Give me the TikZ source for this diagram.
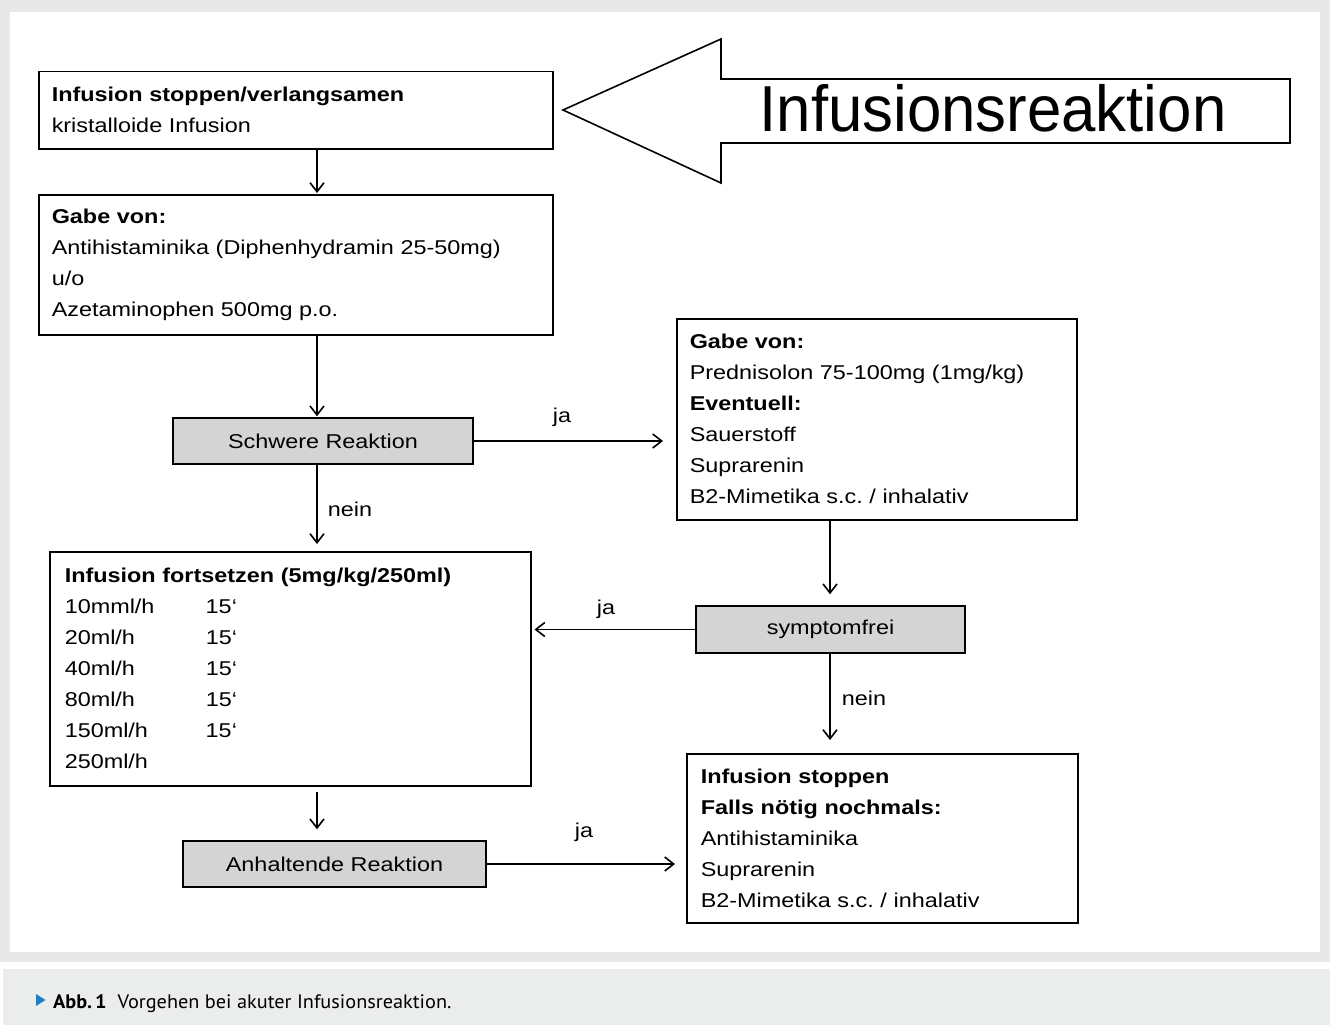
\documentclass[tikz,border=0pt]{standalone}
\usepackage{fontspec}
\setmainfont[FakeStretch=1.17]{Liberation Sans}
\newfontfamily\titlefont[FakeStretch=0.95]{Liberation Sans}
\newfontfamily\capfont[FakeStretch=1.04]{PT Sans}
\usetikzlibrary{arrows.meta}
\definecolor{framegray}{RGB}{232,232,232}
\definecolor{capgray}{RGB}{235,236,236}
\definecolor{boxgray}{RGB}{212,212,212}
\definecolor{capblue}{RGB}{28,128,200}
\frenchspacing
\tikzset{
  box/.style={draw, line width=1.5pt, fill=white, inner xsep=13pt, inner ysep=0pt,
    align=left, anchor=north west, font=\fontsize{20}{31}\selectfont},
  graybox/.style={draw, line width=1.5pt, fill=boxgray, inner sep=0pt,
    font=\fontsize{20}{26}\selectfont},
  lbl/.style={inner sep=0pt, font=\fontsize{20}{26}\selectfont},
  arr/.style={line width=1.6pt, -{Straight Barb[length=9pt,width=14pt,line width=1.6pt]}},
}
\begin{document}
\begin{tikzpicture}[x=1pt,y=-1pt]
\useasboundingbox (0,0) rectangle (1330,1025);
% frame and caption band
\fill[framegray] (0,0) rectangle (1330,962);
\fill[white] (10,12) rectangle (1320,952);
\fill[capgray] (3,969) rectangle (1330,1025);
\fill[capblue] (36,994) -- (45.5,1000) -- (36,1006) -- cycle;
\node[anchor=base west, inner sep=0pt, font=\capfont\fontsize{19.5}{22}\selectfont] (cap) at (53,1008)
  {\textbf{Abb.\,1}\hspace{11pt}Vorgehen bei akuter Infusionsreaktion.};

% big arrow
\draw[line width=1.6pt, fill=white] (563,110) -- (721,39) -- (721,79) -- (1290,79) -- (1290,143)
  -- (721,143) -- (721,183) -- cycle;
\node[inner sep=0pt, font=\titlefont\fontsize{65}{70}\selectfont] (title) at (993,108) {Infusionsreaktion};

% boxes
\node[box, text width=488pt, minimum height=77pt] (A) at (38,71)
  {\textbf{Infusion stoppen/verlangsamen}\\kristalloide Infusion};
\node[box, text width=488pt, minimum height=140pt] (B) at (38,194)
  {\textbf{Gabe von:}\\Antihistaminika (Diphenhydramin 25-50mg)\\u/o\\Azetaminophen 500mg p.o.};
\node[box, text width=374pt, minimum height=201pt] (C) at (676,318)
  {\textbf{Gabe von:}\\Prednisolon 75-100mg (1mg/kg)\\\textbf{Eventuell:}\\Sauerstoff\\Suprarenin\\B2-Mimetika s.c. / inhalativ};
\node[box, inner xsep=15pt, text width=451pt, minimum height=234pt] (D) at (49,551)
  {\textbf{Infusion fortsetzen (5mg/kg/250ml)}\\
   \makebox[141pt][l]{10mml/h}15‘\\
   \makebox[141pt][l]{20ml/h}15‘\\
   \makebox[141pt][l]{40ml/h}15‘\\
   \makebox[141pt][l]{80ml/h}15‘\\
   \makebox[141pt][l]{150ml/h}15‘\\
   250ml/h};
\node[box, inner xsep=14pt, text width=363pt, minimum height=169pt] (E) at (686,753)
  {\textbf{Infusion stoppen}\\\textbf{Falls nötig nochmals:}\\Antihistaminika\\Suprarenin\\B2-Mimetika s.c. / inhalativ};

\node[graybox, minimum width=300pt, minimum height=46pt] (S) at (323,441) {Schwere Reaktion};
\node[graybox, minimum width=269pt, minimum height=47pt] (F) at (830.5,629.5) {symptomfrei};
\node[graybox, minimum width=303pt, minimum height=46pt] (R) at (334.5,864) {Anhaltende Reaktion};

% columns
\coordinate (cl) at (317,0);
\coordinate (cr) at (830,0);

% connectors
\draw[arr, shorten >=1pt] (cl |- A.south) -- (cl |- B.north);
\draw[arr, shorten >=1pt] (cl |- B.south) -- (cl |- S.north);
\draw[arr, shorten >=7pt] (cl |- S.south) -- (cl |- D.north);
\draw[arr, shorten >=13pt] (S.east) -- (S.east -| C.west);
\draw[arr, shorten >=11pt] (cr |- C.south) -- (cr |- F.north);
\draw[arr, shorten >=3pt] (F.west) -- (F.west -| D.east);
\draw[arr, shorten >=13pt] (cr |- F.south) -- (cr |- E.north);
\draw[arr, shorten <=5pt, shorten >=11pt] (cl |- D.south) -- (cl |- R.north);
\draw[arr, shorten >=11pt] (R.east) -- (R.east -| E.west);

% labels
\node[lbl] (l1) at (562,417) {ja};
\node[lbl] (l2) at (350,509) {nein};
\node[lbl] (l3) at (606,609) {ja};
\node[lbl] (l4) at (864,698) {nein};
\node[lbl] (l5) at (584,832) {ja};
\end{tikzpicture}
\end{document}
